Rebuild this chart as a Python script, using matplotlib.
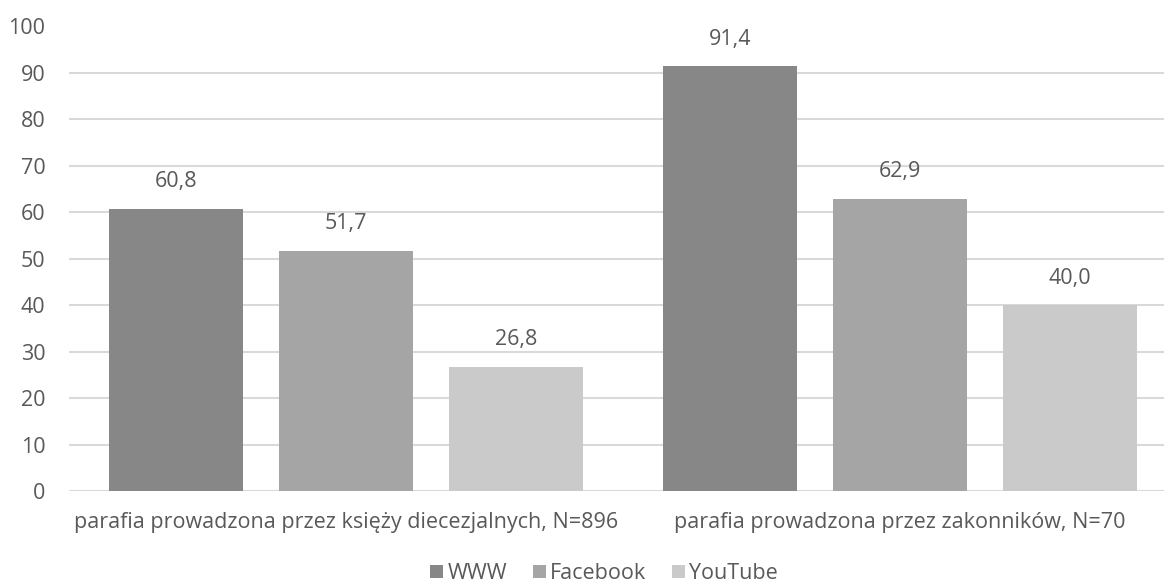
import matplotlib.pyplot as plt
import numpy as np

# Shares of parishes using each channel (%)
categories = ['parafia prowadzona przez księży diecezjalnych, N=896',
              'parafia prowadzona przez zakonników, N=70']
series = ['WWW', 'Facebook', 'YouTube']
www = [60.8, 91.4]
facebook = [51.7, 62.9]
youtube = [26.8, 40.0]

colors = ['#878787', '#a5a5a5', '#cacaca']
text_color = '#595959'
fs = 15.5

plt.rcParams['font.family'] = ['Open Sans', 'DejaVu Sans']

fig = plt.figure(figsize=(11.64, 5.84), dpi=100)
ax = fig.add_axes([69 / 1164, 93 / 584, 1095 / 1164, 464.5 / 584])

x = np.arange(len(categories))
width = 0.242
offset = 0.307

for i, (name, vals) in enumerate(zip(series, [www, facebook, youtube])):
    bars = ax.bar(x + (i - 1) * offset, vals, width, color=colors[i], label=name, zorder=2)
    for b, v in zip(bars, vals):
        ax.annotate(f'{v:.1f}'.replace('.', ','), (b.get_x() + b.get_width() / 2, v),
                    xytext=(0, 12), textcoords='offset points', ha='center', va='bottom',
                    fontsize=fs, color=text_color)

ax.set_xlim(-0.5, 1.4765)
ax.set_ylim(0, 100)
ax.set_yticks(range(0, 101, 10))
ax.set_xticks(x)
ax.set_xticklabels(categories)
ax.grid(axis='y', color='#d9d9d9', linewidth=1.5, zorder=0)
for s in ax.spines.values():
    s.set_visible(False)
ax.tick_params(axis='both', length=0, labelsize=fs, colors=text_color)
ax.tick_params(axis='y', pad=17)
ax.tick_params(axis='x', pad=15)

leg = fig.legend(loc='center', bbox_to_anchor=(604 / 1164, 10.5 / 584), ncol=3, frameon=False,
                 fontsize=fs, handlelength=0.6, handleheight=0.6, handletextpad=0.2,
                 columnspacing=1.2, labelcolor=text_color, borderpad=0.2)

fig.savefig('out.png', dpi=100)
